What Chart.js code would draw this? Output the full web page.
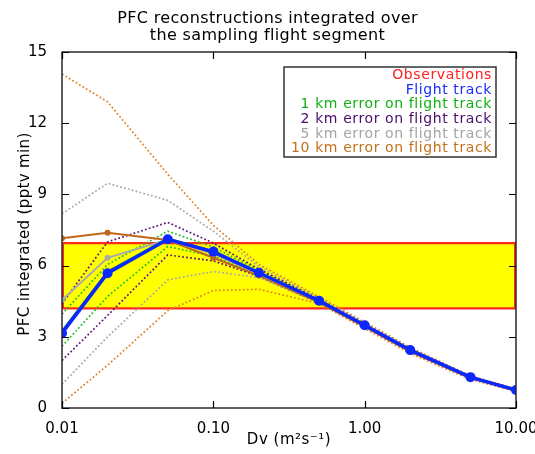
<!DOCTYPE html>
<html>
<head>
<meta charset="utf-8">
<script src="https://cdn.jsdelivr.net/npm/chart.js@4/dist/chart.umd.min.js"></script>
<style>
  html, body { margin: 0; padding: 0; background: #ffffff; }
  canvas { display: block; }
</style>
</head>
<body>
<canvas id="c" width="535" height="454"></canvas>
<script>
// ---- data ----
const dv = [0.01, 0.02, 0.05, 0.1, 0.2, 0.5, 1, 2, 5, 10];
const obsRange = [4.2, 6.95];
const flightTrack = [3.15, 5.68, 7.11, 6.59, 5.70, 4.52, 3.49, 2.44, 1.30, 0.76];
const km1Mean  = [3.25, 5.75, 7.15, 6.60, 5.70, 4.50, 3.48, 2.43, 1.29, 0.76];
const km1Upper = [3.95, 6.05, 7.45, 6.78, 5.80, 4.58, 3.53, 2.47, 1.31, 0.77];
const km1Lower = [2.60, 4.70, 6.80, 6.40, 5.60, 4.45, 3.44, 2.40, 1.27, 0.75];
const km2Mean  = [3.22, 5.73, 7.10, 6.55, 5.68, 4.50, 3.47, 2.42, 1.28, 0.75];
const km2Upper = [4.40, 7.00, 7.82, 6.95, 5.85, 4.60, 3.55, 2.48, 1.32, 0.77];
const km2Lower = [2.00, 3.90, 6.45, 6.20, 5.55, 4.43, 3.42, 2.38, 1.26, 0.74];
const km5Mean  = [4.55, 6.33, 7.10, 6.50, 5.65, 4.50, 3.47, 2.42, 1.28, 0.75];
const km5Upper = [8.18, 9.47, 8.75, 7.45, 5.95, 4.62, 3.56, 2.50, 1.33, 0.78];
const km5Lower = [1.00, 3.00, 5.40, 5.75, 5.50, 4.42, 3.40, 2.36, 1.25, 0.73];
const km10Mean  = [7.15, 7.38, 7.08, 6.33, 5.58, 4.45, 3.43, 2.38, 1.26, 0.74];
const km10Upper = [14.07, 12.90, 9.85, 7.70, 6.05, 4.68, 3.62, 2.55, 1.36, 0.80];
const km10Lower = [0.20, 1.80, 4.10, 4.95, 5.00, 4.40, 3.35, 2.30, 1.20, 0.70];
const xTicks = [0.01, 0.1, 1, 10];
const xTickLabels = ['0.01', '0.10', '1.00', '10.00'];
const yTicks = [0, 3, 6, 9, 12, 15];
const titleLines = ['PFC reconstructions integrated over', 'the sampling flight segment'];
const xTitle = 'Dv (m\u00B2s\u207B\u00B9)';
const yTitle = 'PFC integrated (pptv min)';
const legendItems = [
  { text: 'Observations', color: '#ff2020' },
  { text: 'Flight track', color: '#1a2cff' },
  { text: '1 km error on flight track', color: '#12b012' },
  { text: '2 km error on flight track', color: '#4b0c6c' },
  { text: '5 km error on flight track', color: '#a4a4a4' },
  { text: '10 km error on flight track', color: '#c4711c' }
];

// ---- colours / styles ----
const C = {
  blue: '#0a28ff', red: '#ff2a1a', yellow: '#ffff00',
  green: '#22c022', purple: '#5c1a78', gray: '#a8a8a8',
  orangeDot: '#e0842a', orangeSolid: '#c0661a', axis: '#2a2a2a'
};
const FONT = '"DejaVu Sans", sans-serif';

const pts = arr => dv.map((x, i) => ({ x: x, y: arr[i] }));
const dotted = (arr, color) => ({
  data: pts(arr), borderColor: color, borderWidth: 1.7, borderDash: [1.8, 2.2],
  pointRadius: 0, fill: false, tension: 0, order: 20
});
const solid = (arr, color, order, r) => ({
  data: pts(arr), borderColor: color, backgroundColor: color, borderWidth: 2,
  pointRadius: r, pointBorderWidth: 0, pointBackgroundColor: color, fill: false, tension: 0, order: order
});

const xEnds = [dv[0], dv[dv.length - 1]];
const datasets = [
  // observation band
  { data: xEnds.map(x => ({ x: x, y: obsRange[1] })), borderColor: C.red, borderWidth: 2.2,
    backgroundColor: C.yellow, fill: { target: { value: obsRange[0] } }, pointRadius: 0, order: 100 },
  { data: xEnds.map(x => ({ x: x, y: obsRange[0] })), borderColor: C.red, borderWidth: 2.2,
    pointRadius: 0, fill: false, order: 99 },
  { data: obsRange.map(y => ({ x: xEnds[0], y: y })), borderColor: C.red, borderWidth: 4,
    pointRadius: 0, fill: false, order: 99 },
  { data: obsRange.map(y => ({ x: xEnds[1], y: y })), borderColor: C.red, borderWidth: 4,
    pointRadius: 0, fill: false, order: 99 },
  // error envelopes
  dotted(km10Upper, C.orangeDot), dotted(km10Lower, C.orangeDot),
  dotted(km5Upper, C.gray), dotted(km5Lower, C.gray),
  dotted(km2Upper, C.purple), dotted(km2Lower, C.purple),
  dotted(km1Upper, C.green), dotted(km1Lower, C.green),
  // means
  solid(km10Mean, C.orangeSolid, 6, 3),
  solid(km5Mean, C.gray, 5, 3),
  solid(km1Mean, C.green, 4, 0),
  solid(km2Mean, C.purple, 3, 0),
  // flight track
  { data: pts(flightTrack), borderColor: C.blue, backgroundColor: C.blue, borderWidth: 3.5,
    pointRadius: 5, pointBorderWidth: 0, pointBackgroundColor: C.blue, pointStyle: 'circle',
    fill: false, tension: 0, order: 0 }
];

const decor = {
  id: 'decor',
  afterDatasetsDraw(chart) {
    const ctx = chart.ctx, a = chart.chartArea;
    const xs = chart.scales.x, ys = chart.scales.y;
    ctx.save();
    // frame
    ctx.strokeStyle = C.axis; ctx.lineWidth = 1.5;
    ctx.strokeRect(a.left, a.top, a.right - a.left, a.bottom - a.top);
    // inward ticks
    ctx.lineWidth = 1.2; ctx.strokeStyle = '#000';
    const tl = 7;
    ctx.beginPath();
    xTicks.forEach(v => {
      const px = Math.round(xs.getPixelForValue(v)) + 0.5;
      ctx.moveTo(px, a.bottom); ctx.lineTo(px, a.bottom - tl);
      ctx.moveTo(px, a.top); ctx.lineTo(px, a.top + tl);
    });
    yTicks.forEach(v => {
      const py = Math.round(ys.getPixelForValue(v)) + 0.5;
      ctx.moveTo(a.left, py); ctx.lineTo(a.left + tl, py);
      ctx.moveTo(a.right, py); ctx.lineTo(a.right - tl, py);
    });
    ctx.stroke();

    // title
    ctx.fillStyle = '#000';
    ctx.textAlign = 'center'; ctx.textBaseline = 'middle';
    ctx.font = '16px ' + FONT;
    ctx.letterSpacing = '0.35px';
    ctx.fillText(titleLines[0], chart.width / 2, 19);
    ctx.fillText(titleLines[1], chart.width / 2, 36);

    // axis titles
    ctx.letterSpacing = '0.5px';
    ctx.font = '15px ' + FONT;
    ctx.fillText(xTitle, (a.left + a.right) / 2, 440);
    ctx.letterSpacing = '0.35px';
    ctx.font = '15px ' + FONT;
    ctx.save();
    ctx.translate(25, 234);
    ctx.rotate(-Math.PI / 2);
    ctx.fillText(yTitle, 0, 0);
    ctx.restore();

    // legend
    const bx = 284, by = 67, bw = 212, bh = 90;
    ctx.fillStyle = '#fff';
    ctx.fillRect(bx, by, bw, bh);
    ctx.strokeStyle = '#333'; ctx.lineWidth = 1.5;
    ctx.strokeRect(bx, by, bw, bh);
    ctx.font = '14px ' + FONT;
    ctx.letterSpacing = '0.6px';
    ctx.textAlign = 'right'; ctx.textBaseline = 'middle';
    legendItems.forEach((it, i) => {
      ctx.fillStyle = it.color;
      ctx.fillText(it.text, 492, 75.5 + i * 14.6);
    });
    ctx.restore();
  }
};

new Chart(document.getElementById('c'), {
  type: 'line',
  data: { datasets: datasets },
  options: {
    responsive: false, animation: false, devicePixelRatio: 1,
    layout: { padding: { top: 52, right: 19, left: 0, bottom: 0 } },
    plugins: { legend: { display: false }, title: { display: false }, tooltip: { enabled: false } },
    scales: {
      x: {
        type: 'logarithmic', min: 0.01, max: 10,
        afterBuildTicks: s => { s.ticks = xTicks.map(v => ({ value: v })); },
        afterFit: s => { s.height = 46; s.paddingLeft = 0; s.paddingRight = 0; },
        grid: { display: false },
        border: { display: false },
        ticks: {
          color: '#000', font: { family: FONT, size: 15 }, padding: 4, maxRotation: 0, autoSkip: false,
          callback: function (v) { const i = xTicks.indexOf(v); return i >= 0 ? xTickLabels[i] : ''; }
        }
      },
      y: {
        min: 0, max: 15,
        afterBuildTicks: s => { s.ticks = yTicks.map(v => ({ value: v })); },
        afterFit: s => { s.width = 62; s.paddingTop = 0; s.paddingBottom = 0; },
        grid: { display: false },
        border: { display: false },
        ticks: { color: '#000', font: { family: FONT, size: 15 }, padding: 7 }
      }
    }
  },
  plugins: [decor]
});
</script>
</body>
</html>
